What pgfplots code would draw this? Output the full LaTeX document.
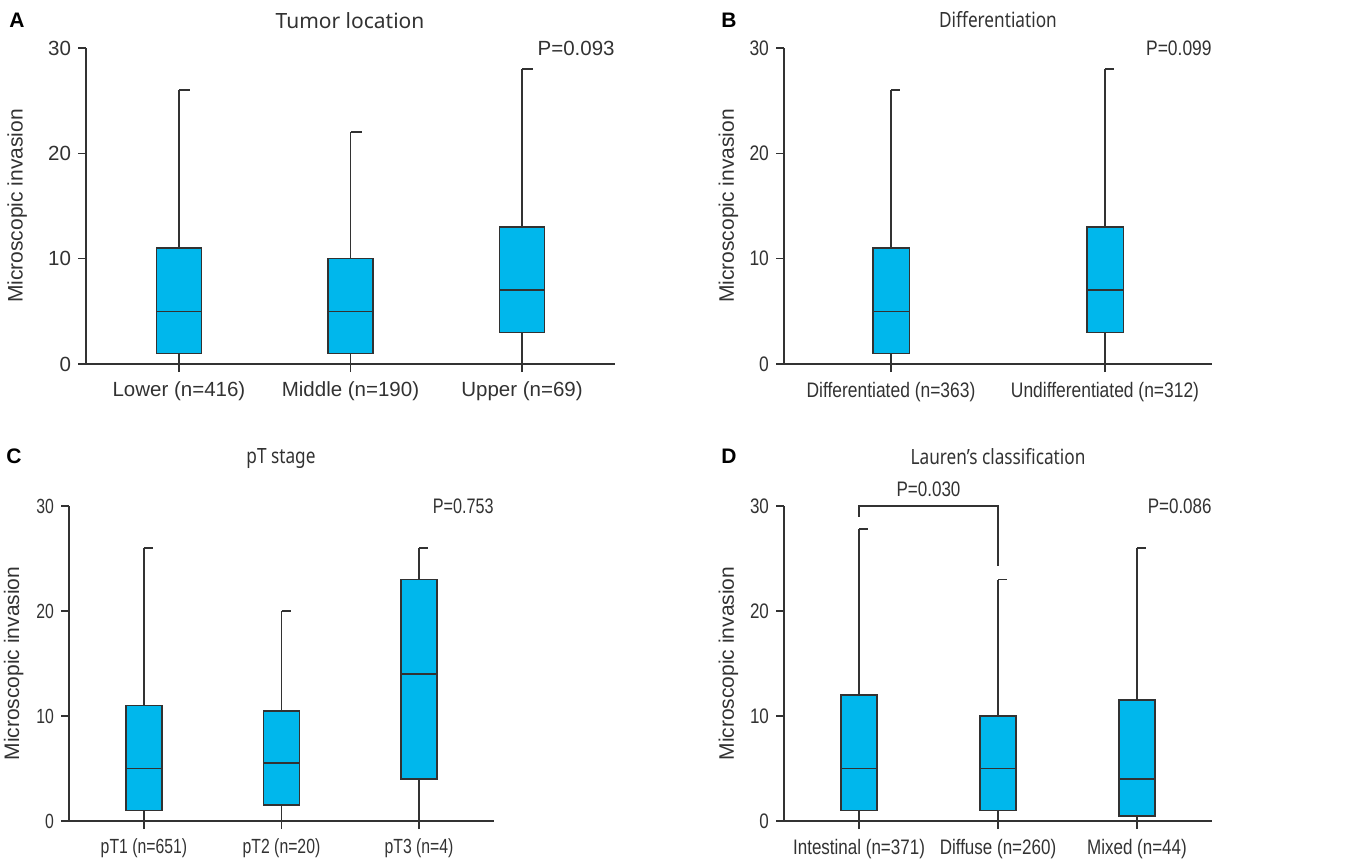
\documentclass[border=0pt]{standalone}
\usepackage{pgfplots}
\pgfplotsset{compat=1.18}
\usepgfplotslibrary{statistics}
\usepackage{fontspec}
\setmainfont{Liberation Sans}
\newfontfamily\narrowB[FakeStretch=0.83]{Liberation Sans}
\newfontfamily\narrowC[FakeStretch=0.77]{Liberation Sans}
\newfontfamily\narrowD[FakeStretch=0.81]{Liberation Sans}
\newfontfamily\titlesans{Noto Sans}
\newfontfamily\titlenarrow[FakeStretch=0.82]{Noto Sans}
\definecolor{boxcyan}{RGB}{0,183,236}
\definecolor{ink}{RGB}{50,50,50}

\pgfplotsset{
  panel/.style={
    scale only axis,
    axis lines*=left,
    ymin=0, ymax=30, ytick={0,10,20,30},
    xtick={0,1,2},
    tick align=outside,
    major tick length=4pt,
    axis line style={ink, line width=0.75pt},
    tick style={ink, line width=0.75pt},
    clip=false,
    /pgf/number format/assume math mode=true,
    ylabel={Microscopic invasion},
    ylabel style={at={(axis description cs:-0.13,0.5)}, anchor=center,
      font=\fontsize{10.5}{12}\selectfont, text=ink},
    ticklabel style={text=ink},
    xticklabel style={yshift=-1.5pt},
    boxplot/draw direction=y,
    boxplot/every box/.style={fill=boxcyan},
    boxplot/draw/upper whisker/.code={%
      \draw[/pgfplots/boxplot/every whisker/.try]
        (boxplot cs:\pgfplotsboxplotvalue{upper quartile}) --
        (boxplot cs:\pgfplotsboxplotvalue{upper whisker})
        (boxplot whisker cs:\pgfplotsboxplotvalue{upper whisker},0.5) --
        (boxplot whisker cs:\pgfplotsboxplotvalue{upper whisker},1);
    },
    boxplot/draw/lower whisker/.code={%
      \draw[/pgfplots/boxplot/every whisker/.try]
        (boxplot cs:\pgfplotsboxplotvalue{lower quartile}) --
        (boxplot cs:\pgfplotsboxplotvalue{lower whisker});
    },
  },
  bx/.style={draw=ink, line width=0.8pt, boxplot prepared={#1}},
}

\begin{document}
\begin{tikzpicture}
\path[use as bounding box] (0,0) rectangle (672.5pt,-431.5pt);

% ---------- Panel A ----------
\begin{axis}[panel, at={(43pt,-182pt)}, anchor=south west,
  width=264.5pt, height=158pt,
  xmin=-0.542, xmax=2.542,
  boxplot/box extend=0.262, boxplot/whisker extend=0.131,
  xticklabels={Lower (n=416), Middle (n=190), Upper (n=69)},
  ticklabel style={font=\fontsize{10.25}{12}\selectfont}]
\addplot[bx={draw position=0, lower whisker=0, lower quartile=1, median=5, upper quartile=11, upper whisker=26}] coordinates {};
\addplot[bx={draw position=1, lower whisker=0, lower quartile=1, median=5, upper quartile=10, upper whisker=22}] coordinates {};
\addplot[bx={draw position=2, lower whisker=0, lower quartile=3, median=7, upper quartile=13, upper whisker=28}] coordinates {};
\draw[ink, line width=0.75pt] (rel axis cs:0,0) -- ++(-4pt,0);
\node[anchor=east, inner sep=0pt, text=ink, font=\fontsize{10.25}{12}\selectfont] at (rel axis cs:1,1) {P=0.093};
\end{axis}

% ---------- Panel B ----------
\begin{axis}[panel, at={(392pt,-182pt)}, anchor=south west,
  width=214pt, height=158pt,
  xmin=-0.5, xmax=1.5, xtick={0,1},
  boxplot/box extend=0.171, boxplot/whisker extend=0.0855,
  xticklabels={Differentiated (n=363), Undifferentiated (n=312)},
  ticklabel style={font=\narrowB\fontsize{10.5}{12}\selectfont}]
\addplot[bx={draw position=0, lower whisker=0, lower quartile=1, median=5, upper quartile=11, upper whisker=26}] coordinates {};
\addplot[bx={draw position=1, lower whisker=0, lower quartile=3, median=7, upper quartile=13, upper whisker=28}] coordinates {};
\draw[ink, line width=0.75pt] (rel axis cs:0,0) -- ++(-4pt,0);
\node[anchor=east, inner sep=0pt, text=ink, font=\narrowB\fontsize{10.5}{12}\selectfont] at (rel axis cs:1,1) {P=0.099};
\end{axis}

% ---------- Panel C ----------
\begin{axis}[panel, at={(34.5pt,-410.5pt)}, anchor=south west,
  width=212.5pt, height=157.5pt,
  xmin=-0.545, xmax=2.545,
  boxplot/box extend=0.262, boxplot/whisker extend=0.131,
  xticklabels={pT1 (n=651), pT2 (n=20), pT3 (n=4)},
  ticklabel style={font=\narrowC\fontsize{10.25}{12}\selectfont}]
\addplot[bx={draw position=0, lower whisker=0, lower quartile=1, median=5, upper quartile=11, upper whisker=26}] coordinates {};
\addplot[bx={draw position=1, lower whisker=0, lower quartile=1.5, median=5.5, upper quartile=10.5, upper whisker=20}] coordinates {};
\addplot[bx={draw position=2, lower whisker=0, lower quartile=4, median=14, upper quartile=23, upper whisker=26}] coordinates {};
\draw[ink, line width=0.75pt] (rel axis cs:0,0) -- ++(-4pt,0);
\node[anchor=east, inner sep=0pt, text=ink, font=\narrowC\fontsize{10.5}{12}\selectfont] at (rel axis cs:1,1) {P=0.753};
\end{axis}

% ---------- Panel D ----------
\begin{axis}[panel, at={(392pt,-410.5pt)}, anchor=south west,
  width=214pt, height=157.5pt,
  xmin=-0.54, xmax=2.54,
  boxplot/box extend=0.261, boxplot/whisker extend=0.1305,
  xticklabels={Intestinal (n=371), Diffuse (n=260), Mixed (n=44)},
  ticklabel style={font=\narrowD\fontsize{10.5}{12}\selectfont}]
\addplot[bx={draw position=0, lower whisker=0, lower quartile=1, median=5, upper quartile=12, upper whisker=27.8}] coordinates {};
\addplot[bx={draw position=1, lower whisker=0, lower quartile=1, median=5, upper quartile=10, upper whisker=23}] coordinates {};
\addplot[bx={draw position=2, lower whisker=0, lower quartile=0.5, median=4, upper quartile=11.5, upper whisker=26}] coordinates {};
\addplot[ink, line width=0.8pt] coordinates {(0,29) (0,30) (1,30) (1,24.3)};
\draw[ink, line width=0.75pt] (rel axis cs:0,0) -- ++(-4pt,0);
\node[anchor=base, inner sep=0pt, text=ink, font=\narrowD\fontsize{10.5}{12}\selectfont] at (axis cs:0.5,30.95) {P=0.030};
\node[anchor=east, inner sep=0pt, text=ink, font=\narrowD\fontsize{10.5}{12}\selectfont] at (rel axis cs:1,1) {P=0.086};
\end{axis}

% ---------- Panel letters and titles ----------
\node[anchor=base, font=\bfseries\fontsize{10.5}{12}\selectfont, text=black] at (8.5pt,-13.5pt) {A};
\node[anchor=base, font=\bfseries\fontsize{10.5}{12}\selectfont, text=black] at (364.5pt,-13.5pt) {B};
\node[anchor=base, font=\bfseries\fontsize{10.5}{12}\selectfont, text=black] at (7pt,-231.5pt) {C};
\node[anchor=base, font=\bfseries\fontsize{10.5}{12}\selectfont, text=black] at (364.5pt,-231.5pt) {D};
\node[anchor=base, font=\titlesans\fontsize{10.5}{12}\selectfont, text=ink] at (175pt,-14pt) {Tumor location};
\node[anchor=base, font=\titlenarrow\fontsize{10.5}{12}\selectfont, text=ink] at (499pt,-13.5pt) {Differentiation};
\node[anchor=base, font=\titlenarrow\fontsize{10.5}{12}\selectfont, text=ink] at (140.5pt,-231.5pt) {pT stage};
\node[anchor=base, font=\titlenarrow\fontsize{10.5}{12}\selectfont, text=ink] at (499pt,-232pt) {Lauren’s classification};
\end{tikzpicture}
\end{document}
